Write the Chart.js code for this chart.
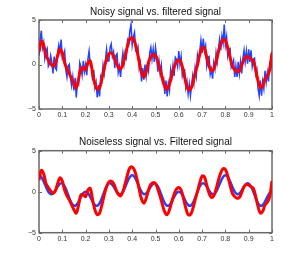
<!DOCTYPE html>
<html lang="en">
<head>
<meta charset="UTF-8">
<title>Noisy vs filtered signal</title>
<script src="https://cdn.jsdelivr.net/npm/chart.js"></script>
<style>
    body { margin: 0; background: #fff; width: 300px; height: 262px; position: relative; overflow: hidden; }
    .box { position: absolute; left: 0; width: 300px; }
    #top { top: 0; height: 131px; }
    #bottom { top: 130px; height: 132px; }
</style>
</head>
<body>
<div class="box" id="top"><canvas id="noisyChart" width="300" height="131"></canvas></div>
<div class="box" id="bottom"><canvas id="cleanChart" width="300" height="132"></canvas></div>

<script>
// noisy signal, sampled every 0.005 from 0 to 1
const noisyStep = 0.005;
const noisy = [
    1.0, 2.8, 3.8, 1.9, 2.5, 0.7, 1.5, 1.8, -0.2, 0.1,
    1.0, 0.3, -1.0, 0.9, -0.4, -0.6, 1.4, 2.2, 1.4, 2.8,
    0.7, 1.0, 1.5, -0.6, -1.4, -0.2, 0.0, -1.5, -2.4, -1.4,
    -2.9, -1.5, -3.7, -1.9, -2.2, 0.2, -0.3, -1.2, 0.4, -0.8,
    0.0, -1.2, 0.6, 1.5, -0.1, -0.1, -1.8, -0.6, -2.6, -2.0,
    -3.7, -2.3, -3.6, -1.4, -1.8, -0.1, -1.0, 0.4, 1.7, 0.4,
    0.4, 1.9, 2.3, 0.9, 1.4, -0.4, 1.0, 1.2, -0.9, -0.2,
    -1.4, 0.2, 1.3, 0.1, 1.3, 0.8, 2.7, 2.3, 3.8, 4.5,
    2.2, 3.1, 3.6, 1.5, 1.4, 1.9, -0.4, 0.2, -1.9, -0.4,
    -1.7, 0.0, -1.3, 0.0, -0.7, 1.3, 1.9, 0.6, 1.7, 0.3,
    1.9, 0.9, -0.8, 0.4, -1.0, -0.1, -1.9, -1.6, -3.3, -1.8,
    -3.6, -2.1, -2.9, -0.6, -1.4, -0.1, -1.3, 0.8, 0.6, -0.2,
    1.5, 0.0, 0.9, -1.2, -0.5, -0.6, -2.6, -1.9, -3.3, -2.2,
    -3.5, -2.2, -1.2, -2.1, -0.4, -1.3, 1.0, 0.2, 1.5, 2.7,
    1.3, 2.9, 1.5, 2.1, -0.1, 0.8, 0.9, -1.1, -0.5, -1.6,
    0.2, -0.5, 1.3, 0.3, 1.7, 2.8, 1.6, 3.2, 2.4, 4.5,
    2.2, 3.1, 1.0, 1.7, 1.8, -0.3, 0.1, 0.5, -1.4, -0.2,
    -1.4, 0.3, -1.0, 0.3, -1.0, 0.7, 1.6, 0.3, 1.5, 0.1,
    1.7, 0.3, 1.6, -0.2, 0.6, 0.7, -1.1, -0.6, -2.7, -3.5,
    -1.8, -3.5, -1.9, -2.7, -0.7, -2.0, -0.9, -1.9, 0.1, -0.3,
    1.5
];

// filtered signal, sampled every 0.01
const filtStep = 0.01;
const filtered = [
    1.4, 2.6, 2.2, 1.0, 0.5, 0.1, -0.2, 0.1, 1.0, 1.7,
    1.3, 0.2, -0.5, -1.0, -1.6, -2.2, -2.6, -1.6, -0.4, -0.4,
    -0.6, 0.2, 0.4, -1.0, -2.2, -2.8, -2.6, -1.6, -0.4, 0.6,
    1.2, 1.3, 1.0, 0.3, -0.3, -0.5, 0.0, 1.0, 2.1, 2.9,
    3.0, 2.6, 1.6, 0.3, -0.9, -1.4, -0.8, 0.2, 0.9, 1.1,
    1.0, 0.3, -0.6, -1.6, -2.5, -2.8, -2.2, -1.2, -0.3, 0.3,
    0.5, 0.2, -0.8, -2.0, -2.8, -2.8, -2.1, -1.0, 0.0, 1.1,
    1.9, 1.8, 0.8, -0.2, -0.7, -0.5, 0.3, 1.4, 2.3, 2.8,
    2.7, 1.9, 0.8, -0.2, -0.6, -0.8, -0.7, -0.1, 0.6, 0.9,
    0.8, 0.6, 0.4, -0.6, -1.8, -2.6, -2.4, -1.6, -1.3, -0.6,
    1.3
];

// noiseless signal, sampled every 0.01
const cleanStep = 0.01;
const clean = [
    2.00, 1.80, 1.26, 0.58, 0.00, -0.29, -0.22, 0.15, 0.62, 0.97,
    1.00, 0.65, 0.00, -0.76, -1.40, -1.71, -1.62, -1.20, -0.64, -0.18,
    0.00, -0.18, -0.64, -1.20, -1.62, -1.71, -1.40, -0.76, 0.00, 0.65,
    1.00, 0.97, 0.62, 0.15, -0.22, -0.29, 0.00, 0.58, 1.26, 1.80,
    2.00, 1.80, 1.26, 0.58, 0.00, -0.29, -0.22, 0.15, 0.62, 0.97,
    1.00, 0.65, 0.00, -0.76, -1.40, -1.71, -1.62, -1.20, -0.64, -0.18,
    0.00, -0.18, -0.64, -1.20, -1.62, -1.71, -1.40, -0.76, 0.00, 0.65,
    1.00, 0.97, 0.62, 0.15, -0.22, -0.29, 0.00, 0.58, 1.26, 1.80,
    2.00, 1.80, 1.26, 0.58, 0.00, -0.29, -0.22, 0.15, 0.62, 0.97,
    1.00, 0.65, 0.00, -0.76, -1.40, -1.71, -1.62, -1.20, -0.64, -0.18,
    0.00
];

const xTicks = [0, 0.1, 0.2, 0.3, 0.4, 0.5, 0.6, 0.7, 0.8, 0.9, 1];
const yTicks = [-5, 0, 5];

const blue = 'rgb(35, 65, 255)';
const red = 'rgb(255, 0, 0)';
const fontFamily = 'Liberation Sans, Arial, sans-serif';

function toPoints(values, step) {
    return values.map((v, i) => ({ x: +(i * step).toFixed(3), y: v }));
}

// matlab style box with inward ticks, title centred over the axes
const boxPlugin = {
    id: 'box',
    beforeDatasetsDraw(chart, args, opts) {
        const { ctx, chartArea: a, scales } = chart;
        ctx.save();
        ctx.strokeStyle = '#6a6a6a';
        ctx.lineWidth = 1;
        ctx.beginPath();
        xTicks.forEach(t => {
            const px = Math.round(scales.x.getPixelForValue(t)) + 0.5;
            ctx.moveTo(px, a.bottom); ctx.lineTo(px, a.bottom - 3);
            ctx.moveTo(px, a.top); ctx.lineTo(px, a.top + 3);
        });
        yTicks.forEach(t => {
            const py = Math.round(scales.y.getPixelForValue(t)) + 0.5;
            ctx.moveTo(a.left, py); ctx.lineTo(a.left + 3, py);
            ctx.moveTo(a.right, py); ctx.lineTo(a.right - 3, py);
        });
        ctx.stroke();
        ctx.lineWidth = 1.5;
        ctx.strokeRect(a.left, a.top, a.right - a.left, a.bottom - a.top);

        ctx.fillStyle = '#111';
        ctx.font = '10px ' + fontFamily;
        ctx.textAlign = 'center';
        ctx.textBaseline = 'middle';
        ctx.fillText(opts.text, (a.left + a.right) / 2, opts.y);
        ctx.restore();
    }
};

function makeOptions(title, titleY, topPad, xAxisHeight) {
    return {
        responsive: false,
        animation: false,
        devicePixelRatio: 1,
        layout: { padding: { left: 0, right: 28, top: topPad, bottom: 0 } },
        plugins: {
            legend: { display: false },
            tooltip: { enabled: false },
            title: { display: false },
            box: { text: title, y: titleY }
        },
        scales: {
            x: {
                type: 'linear',
                min: 0,
                max: 1,
                grid: { display: false, drawTicks: false },
                border: { display: false },
                afterFit(scale) { scale.height = xAxisHeight; },
                afterBuildTicks(scale) { scale.ticks = xTicks.map(v => ({ value: v })); },
                ticks: {
                    padding: 2,
                    maxRotation: 0,
                    autoSkip: false,
                    color: '#333',
                    font: { family: fontFamily, size: 7 },
                    callback: v => String(v)
                }
            },
            y: {
                min: -5,
                max: 5,
                grid: { display: false, drawTicks: false },
                border: { display: false },
                afterFit(scale) { scale.width = 39; },
                afterBuildTicks(scale) { scale.ticks = yTicks.map(v => ({ value: v })); },
                ticks: {
                    padding: 3,
                    color: '#333',
                    font: { family: fontFamily, size: 7 },
                    callback: v => String(v).replace('-', '\u2212')
                }
            }
        }
    };
}

new Chart(document.getElementById('noisyChart'), {
    type: 'line',
    data: {
        datasets: [
            {
                label: 'Filtered',
                data: toPoints(filtered, filtStep),
                borderColor: red,
                borderWidth: 3,
                pointRadius: 0,
                tension: 0.4,
                order: 0
            },
            {
                label: 'Noisy',
                data: toPoints(noisy, noisyStep),
                borderColor: blue,
                borderWidth: 1.5,
                pointRadius: 0,
                tension: 0,
                order: 1
            }
        ]
    },
    options: makeOptions('Noisy signal vs. filtered signal', 12.6, 20, 22),
    plugins: [boxPlugin]
});

new Chart(document.getElementById('cleanChart'), {
    type: 'line',
    data: {
        datasets: [
            {
                label: 'Filtered',
                data: toPoints(filtered, filtStep),
                borderColor: red,
                borderWidth: 3,
                pointRadius: 0,
                tension: 0.4,
                order: 0
            },
            {
                label: 'Noiseless',
                data: toPoints(clean, cleanStep),
                borderColor: blue,
                borderWidth: 2.5,
                pointRadius: 0,
                tension: 0.4,
                order: 1
            }
        ]
    },
    options: makeOptions('Noiseless signal vs. Filtered signal', 12.7, 20.7, 29.3),
    plugins: [boxPlugin]
});
</script>
</body>
</html>
